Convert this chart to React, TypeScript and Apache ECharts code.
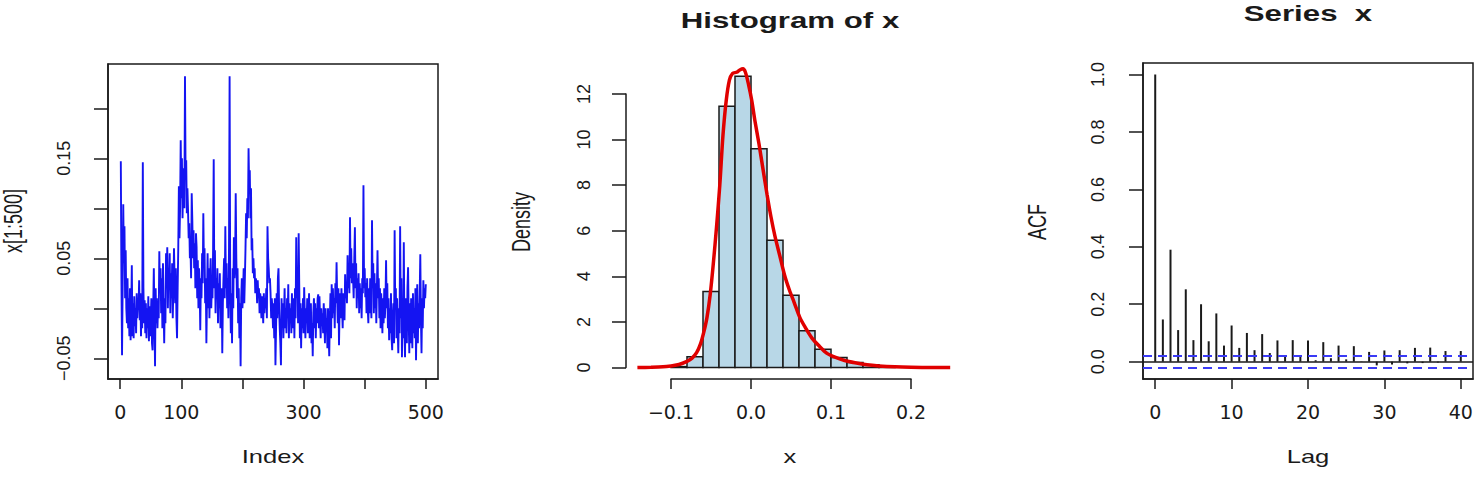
import React, { useEffect, useRef } from "react";
import * as echarts from "echarts";

// ---------- Panel 1: time series x[1:500] ----------
const seriesX: number[] = [
  0.147, 0.030, -0.047, 0.020, 0.104, 0.045, 0.082, 0.010, 0.058, 0.000,
  -0.015, 0.030, -0.020, 0.010, -0.028, 0.020, -0.032, -0.005, 0.043, -0.028,
  0.005, -0.030, 0.012, -0.018, 0.000, -0.025, 0.015, -0.010, 0.005, 0.000,
  0.028, -0.012, 0.015, -0.028, 0.005, -0.020, 0.146, 0.020, -0.015, 0.008,
  -0.025, 0.005, -0.030, 0.000, -0.020, 0.012, -0.033, 0.002, -0.028, -0.010,
  0.010, -0.035, -0.042, 0.000, 0.040, -0.010, -0.058, 0.020, -0.015, 0.010,
  -0.020, 0.005, -0.010, 0.057, 0.015, 0.040, -0.005, 0.030, -0.020, 0.045,
  0.000, -0.035, 0.010, -0.015, 0.055, 0.020, 0.061, 0.000, 0.040, 0.025,
  0.055, -0.005, 0.035, 0.010, 0.045, -0.010, 0.020, 0.060, 0.030, 0.005,
  0.040, -0.010, -0.030, 0.020, 0.060, 0.122, 0.070, 0.100, 0.168, 0.110,
  0.150, 0.090, 0.125, 0.140, 0.100, 0.232, 0.130, 0.148, 0.095, 0.120,
  0.098, 0.070, 0.085, 0.050, 0.060, 0.030, 0.115, 0.088, 0.050, 0.078,
  0.040, 0.065, 0.020, 0.075, 0.061, 0.010, 0.048, 0.000, 0.040, 0.020,
  -0.022, 0.030, 0.010, 0.055, 0.025, 0.095, 0.040, 0.060, 0.005, 0.030,
  -0.035, 0.010, 0.055, 0.000, 0.040, -0.010, 0.030, 0.050, 0.000, 0.025,
  0.010, 0.060, 0.149, 0.020, 0.058, -0.005, 0.030, 0.010, 0.040, -0.015,
  0.025, 0.000, 0.035, -0.020, 0.010, 0.020, -0.045, 0.005, 0.030, 0.050,
  0.010, 0.082, 0.020, 0.045, 0.000, 0.030, -0.010, 0.060, 0.232, 0.020,
  -0.025, 0.015, -0.035, 0.040, 0.000, 0.071, 0.030, 0.045, 0.115, 0.050,
  0.010, 0.040, -0.015, 0.020, -0.030, 0.005, -0.058, 0.010, 0.030, 0.000,
  0.015, 0.040, 0.005, 0.030, 0.060, 0.095, 0.070, 0.110, 0.090, 0.160,
  0.120, 0.138, 0.090, 0.120, 0.058, 0.070, 0.035, 0.050, 0.030, 0.040,
  0.015, 0.030, 0.025, 0.005, 0.028, 0.011, 0.020, -0.005, 0.015, 0.010,
  -0.010, 0.012, 0.000, -0.015, 0.015, -0.005, 0.010, 0.000, 0.020, -0.010,
  0.082, 0.050, 0.040, 0.025, 0.030, 0.015, -0.010, 0.010, 0.000, -0.020,
  0.005, -0.030, 0.010, -0.057, -0.020, 0.015, -0.010, 0.030, 0.040, 0.000,
  -0.020, -0.035, -0.057, 0.010, -0.015, 0.005, -0.030, -0.005, 0.020, -0.020,
  0.000, -0.025, 0.010, -0.010, 0.024, -0.030, 0.005, -0.015, 0.000, -0.025,
  0.015, -0.020, -0.005, 0.010, -0.030, 0.020, -0.010, 0.071, 0.010, 0.040,
  -0.015, 0.075, 0.020, -0.030, 0.005, -0.040, 0.000, -0.020, 0.010, -0.025,
  0.021, -0.005, -0.030, 0.000, -0.015, 0.010, -0.025, -0.005, 0.015, -0.030,
  -0.010, 0.005, -0.035, -0.015, -0.048, -0.005, 0.010, -0.020, 0.005, -0.030,
  0.000, -0.015, 0.010, 0.014, -0.020, 0.012, -0.010, -0.030, 0.000, -0.018,
  -0.005, -0.025, 0.005, -0.015, -0.035, 0.000, -0.020, -0.010, -0.040, 0.000,
  -0.025, -0.048, -0.010, 0.015, -0.030, 0.024, -0.010, 0.020, -0.005, 0.010,
  -0.020, 0.025, 0.005, 0.046, 0.010, -0.015, 0.020, -0.037, 0.000, 0.015,
  -0.010, 0.020, 0.000, -0.020, 0.015, 0.005, -0.012, 0.034, 0.010, 0.025,
  0.005, 0.053, 0.020, 0.040, 0.015, 0.091, 0.030, 0.060, 0.025, 0.045,
  0.030, 0.010, 0.050, 0.081, 0.020, 0.045, 0.000, 0.030, 0.010, 0.035,
  -0.005, 0.025, 0.000, 0.020, -0.010, 0.030, 0.015, 0.123, 0.020, 0.040,
  0.011, 0.025, -0.005, 0.030, 0.000, -0.015, 0.020, -0.005, 0.030, 0.010,
  -0.010, 0.088, 0.020, 0.045, -0.005, 0.035, 0.000, 0.025, -0.015, 0.020,
  0.058, 0.010, 0.030, -0.010, 0.020, -0.020, 0.015, 0.000, -0.025, 0.010,
  -0.015, 0.020, -0.010, 0.005, 0.048, 0.000, 0.025, -0.020, 0.010, -0.032,
  0.000, -0.025, 0.015, -0.030, -0.042, -0.010, 0.005, -0.035, 0.078, 0.000,
  0.020, -0.030, 0.010, -0.020, -0.045, 0.000, -0.025, 0.082, -0.010, 0.030,
  -0.049, 0.000, -0.030, 0.066, -0.020, -0.049, 0.010, 0.000, -0.035, 0.020,
  0.041, -0.010, -0.045, 0.005, -0.035, 0.010, -0.020, -0.040, 0.015, -0.025,
  0.000, -0.030, 0.020, -0.052, -0.010, 0.024, -0.035, 0.005, -0.020, 0.015,
  0.054, -0.010, -0.045, 0.010, -0.020, 0.028, 0.000, 0.020, 0.010, 0.024,
];
const indexTicks = [0, 100, 200, 300, 400, 500];
const indexTickLabels = [0, 100, 300, 500];
const seriesYTicks = [-0.05, 0, 0.05, 0.1, 0.15, 0.2];
const seriesYTickLabels = [-0.05, 0.05, 0.15];

// ---------- Panel 2: histogram + density ----------
const histBreaks = [-0.10, -0.08, -0.06, -0.04, -0.02, 0.0, 0.02, 0.04, 0.06, 0.08, 0.10, 0.12, 0.14, 0.16, 0.18];
const histDensity = [0.04, 0.47, 3.33, 11.46, 12.77, 9.59, 5.58, 3.17, 1.61, 0.80, 0.44, 0.22, 0.12, 0.05];
const densityX = [
  -0.142, -0.125, -0.110, -0.100, -0.090, -0.080, -0.074, -0.068, -0.063, -0.059,
  -0.055, -0.051, -0.047, -0.043, -0.039, -0.035, -0.031, -0.027, -0.023, -0.018,
  -0.014, -0.010, -0.007, -0.003, 0.001, 0.005, 0.010, 0.015, 0.020, 0.025,
  0.030, 0.036, 0.042, 0.048, 0.054, 0.061, 0.068, 0.076, 0.085, 0.095,
  0.105, 0.117, 0.130, 0.145, 0.160, 0.180, 0.200, 0.225, 0.249,
];
const densityY = [
  0.0, 0.01, 0.03, 0.07, 0.13, 0.27, 0.40, 0.65, 1.05, 1.55,
  2.2, 3.2, 4.6, 6.2, 8.0, 10.2, 11.7, 12.6, 12.9, 12.95,
  13.05, 13.1, 12.95, 12.4, 11.7, 10.8, 9.8, 8.7, 7.6, 6.6,
  5.75, 4.9, 4.05, 3.4, 2.85, 2.2, 1.75, 1.3, 0.95, 0.62,
  0.45, 0.31, 0.21, 0.12, 0.07, 0.03, 0.01, 0.0, 0.0,
];
const histXTicks = [-0.1, 0.0, 0.1, 0.2];
const histYTicks = [0, 2, 4, 6, 8, 10, 12];

// ---------- Panel 3: ACF ----------
const acfLags = [
  0, 1, 2, 3, 4, 5, 6, 7, 8, 9, 10, 11, 12, 13, 14, 15, 16, 17, 18, 19, 20,
  21, 22, 23, 24, 25, 26, 27, 28, 29, 30, 31, 32, 33, 34, 35, 36, 37, 38, 39, 40,
];
const acfValues = [
  1.0, 0.147, 0.39, 0.11, 0.252, 0.075, 0.20, 0.071, 0.168, 0.056, 0.126,
  0.048, 0.10, 0.04, 0.096, 0.03, 0.074, 0.022, 0.075, 0.019, 0.074,
  0.005, 0.068, 0.012, 0.056, 0.008, 0.054, 0.001, 0.034, -0.013, 0.039,
  -0.010, 0.040, -0.006, 0.048, -0.005, 0.049, -0.003, 0.037, 0.000, 0.037,
];
const acfConfidence = 0.0196;
const acfXTicks = [0, 10, 20, 30, 40];
const acfYTicks = [0, 0.2, 0.4, 0.6, 0.8, 1.0];

// ---------- styling ----------
const INK = "#1a1a1a";
const TICK_FONT = "DejaVu Sans";
const LABEL_FONT = "Liberation Sans";
const axisLineStyle = { color: INK, width: 1.5 };

const fmtNum = (digits: number) => (v: number) =>
  (v < -1e-9 ? "\u2212" : "") + Math.abs(v).toFixed(digits);

const xLabelStyle = { fontFamily: TICK_FONT, fontSize: 19, color: INK, margin: 23 };
const yLabelStyle = { fontFamily: LABEL_FONT, fontSize: 18, color: INK, rotate: 90 };

function hText(text: string, x: number, y: number, size: number, bold = false) {
  return {
    type: "text",
    x,
    y,
    scaleX: 1.42,
    style: {
      text,
      fontFamily: LABEL_FONT,
      fontSize: size,
      fontWeight: bold ? "bold" : "normal",
      fill: INK,
      align: "center",
      verticalAlign: "middle",
      textAlign: "center",
      textVerticalAlign: "middle",
    },
  };
}
function vText(text: string, x: number, y: number, size: number) {
  return {
    type: "text",
    x,
    y,
    rotation: Math.PI / 2,
    scaleY: 1.4,
    style: {
      text,
      fontFamily: LABEL_FONT,
      fontSize: size,
      fill: INK,
      align: "center",
      verticalAlign: "middle",
      textAlign: "center",
      textVerticalAlign: "middle",
    },
  };
}

function buildOption(): any {
  const histBars = histDensity.map((h, i) => [histBreaks[i], histBreaks[i + 1], h]);
  const gridBase = { containLabel: false, outerBoundsMode: "none" };
  return {
    animation: false,
    backgroundColor: "#ffffff",
    grid: [
      // 0: time series box
      { ...gridBase, left: 108, top: 64, width: 330, height: 315, show: true, borderColor: INK, borderWidth: 1.5, backgroundColor: "transparent" },
      // 1: histogram plot region (data)
      { ...gridBase, left: 626, top: 60, width: 328, height: 319 },
      // 2: histogram y axis (0..12 only)
      { ...gridBase, left: 626, top: 93.9, width: 1, height: 273.6 },
      // 3: ACF box
      { ...gridBase, left: 1143, top: 63, width: 330, height: 316, show: true, borderColor: INK, borderWidth: 1.5, backgroundColor: "transparent" },
      // 4: histogram x axis (-0.1..0.2 only)
      { ...gridBase, left: 671, top: 378, width: 240, height: 1 },
    ],
    xAxis: [
      {
        gridIndex: 0, type: "value", min: -19.96, max: 519.96,
        axisLine: { show: true, onZero: false, lineStyle: axisLineStyle },
        axisTick: { show: true, inside: false, length: 10, customValues: indexTicks, lineStyle: axisLineStyle },
        axisLabel: { ...xLabelStyle, customValues: indexTickLabels, formatter: (v: number) => String(v) },
        splitLine: { show: false },
      },
      { gridIndex: 1, type: "value", min: -0.15625, max: 0.25375, show: false, splitLine: { show: false } },
      { gridIndex: 2, type: "value", min: 0, max: 1, show: false, splitLine: { show: false } },
      {
        gridIndex: 3, type: "value", min: -1.6, max: 41.6,
        axisLine: { show: true, onZero: false, lineStyle: axisLineStyle },
        axisTick: { show: true, inside: false, length: 10, customValues: acfXTicks, lineStyle: axisLineStyle },
        axisLabel: { ...xLabelStyle, customValues: acfXTicks, formatter: (v: number) => String(v) },
        splitLine: { show: false },
      },
      {
        gridIndex: 4, type: "value", min: -0.1, max: 0.2,
        axisLine: { show: true, onZero: false, lineStyle: axisLineStyle },
        axisTick: { show: true, inside: false, length: 10, customValues: histXTicks, lineStyle: axisLineStyle },
        axisLabel: { ...xLabelStyle, customValues: histXTicks, formatter: fmtNum(1) },
        splitLine: { show: false },
      },
    ],
    yAxis: [
      {
        gridIndex: 0, type: "value", min: -0.0707, max: 0.2443,
        axisLine: { show: true, onZero: false, lineStyle: axisLineStyle },
        axisTick: { show: true, inside: false, length: 14, customValues: seriesYTicks, lineStyle: axisLineStyle },
        axisLabel: { ...yLabelStyle, margin: 35, customValues: seriesYTickLabels, formatter: fmtNum(2) },
        splitLine: { show: false },
      },
      { gridIndex: 1, type: "value", min: -0.504, max: 13.4868, show: false, splitLine: { show: false } },
      {
        gridIndex: 2, type: "value", min: 0, max: 12, interval: 2,
        axisLine: { show: true, onZero: false, lineStyle: axisLineStyle },
        axisTick: { show: true, inside: false, length: 14, customValues: histYTicks, lineStyle: axisLineStyle },
        axisLabel: { ...yLabelStyle, margin: 33, customValues: histYTicks, formatter: (v: number) => String(v) },
        splitLine: { show: false },
      },
      {
        gridIndex: 3, type: "value", min: -0.0604, max: 1.0404,
        axisLine: { show: true, onZero: false, lineStyle: axisLineStyle },
        axisTick: { show: true, inside: false, length: 14, customValues: acfYTicks, lineStyle: axisLineStyle },
        axisLabel: { ...yLabelStyle, margin: 36, customValues: acfYTicks, formatter: fmtNum(1) },
        splitLine: { show: false },
      },
      { gridIndex: 4, type: "value", min: 0, max: 1, show: false, splitLine: { show: false } },
    ],
    series: [
      {
        name: "x[1:500]",
        type: "line",
        xAxisIndex: 0,
        yAxisIndex: 0,
        data: seriesX.map((v, i) => [i + 1, v]),
        showSymbol: false,
        symbol: "none",
        lineStyle: { color: "#1414F2", width: 1.9 },
        silent: true,
      },
      {
        name: "Histogram of x",
        type: "custom",
        xAxisIndex: 1,
        yAxisIndex: 1,
        data: histBars,
        encode: { x: [0, 1], y: 2 },
        silent: true,
        renderItem: (_params: any, api: any) => {
          const p0 = api.coord([api.value(0), api.value(2)]);
          const p1 = api.coord([api.value(1), 0]);
          return {
            type: "rect",
            shape: { x: p0[0], y: p0[1], width: p1[0] - p0[0], height: p1[1] - p0[1] },
            style: { fill: "#B8D7E7", stroke: INK, lineWidth: 1.5 },
          };
        },
      },
      {
        name: "density",
        type: "line",
        xAxisIndex: 1,
        yAxisIndex: 1,
        data: densityX.map((x, i) => [x, densityY[i]]),
        showSymbol: false,
        symbol: "none",
        smooth: 0.3,
        z: 5,
        lineStyle: { color: "#E00000", width: 3.5 },
        silent: true,
      },
      {
        name: "ACF",
        type: "bar",
        xAxisIndex: 3,
        yAxisIndex: 3,
        data: acfLags.map((l, i) => [l, acfValues[i]]),
        barWidth: 2,
        itemStyle: { color: INK },
        silent: true,
        markLine: {
          silent: true,
          symbol: ["none", "none"],
          label: { show: false },
          data: [
            { yAxis: 0, lineStyle: { color: INK, width: 1.5, type: "solid" } },
            { yAxis: acfConfidence, lineStyle: { color: "#3a3af5", width: 1.8, type: [9, 6] } },
            { yAxis: -acfConfidence, lineStyle: { color: "#3a3af5", width: 1.8, type: [9, 6] } },
          ],
        },
      },
    ],
    graphic: [
      hText("Histogram of x", 790, 21, 22, true),
      hText("Series  x", 1308, 14, 22, true),
      hText("Index", 273, 457, 18),
      hText("x", 790, 457, 18),
      hText("Lag", 1308, 457, 18),
      vText("x[1:500]", 13, 221, 18),
      vText("Density", 521, 222, 18),
      vText("ACF", 1037, 222, 18),
    ],
  };
}

export default function App() {
  const ref = useRef<HTMLDivElement>(null);
  useEffect(() => {
    if (!ref.current) return;
    const chart = echarts.init(ref.current, null, { renderer: "svg" });
    chart.setOption(buildOption());
    return () => chart.dispose();
  }, []);
  return (
    <div
      ref={ref}
      style={{ position: "fixed", left: 0, top: 0, width: 1479, height: 479, background: "#ffffff" }}
    />
  );
}
